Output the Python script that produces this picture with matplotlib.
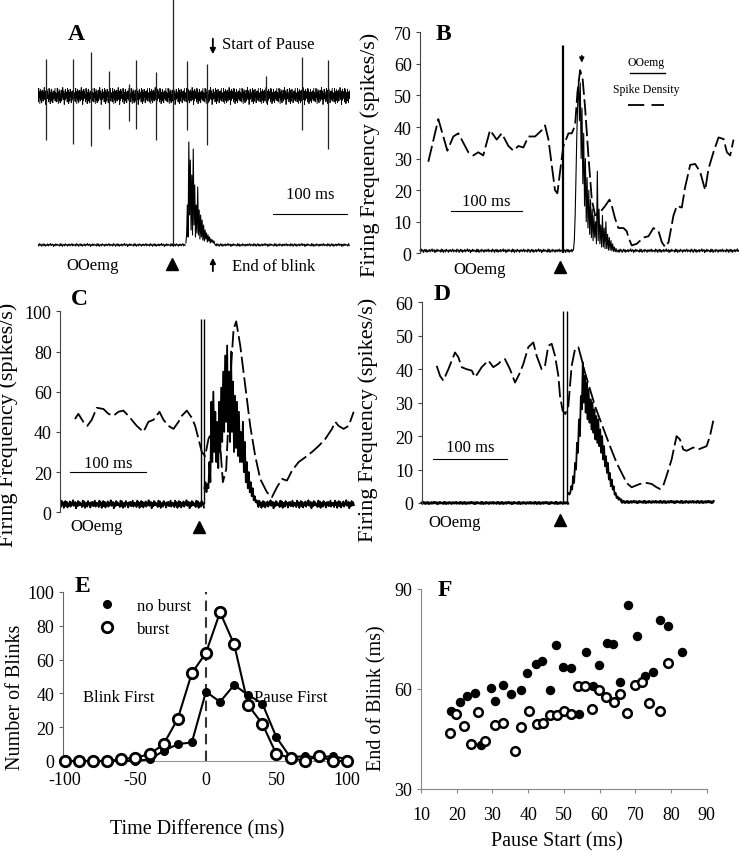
import matplotlib
matplotlib.use('Agg')
import matplotlib.pyplot as plt
import numpy as np

plt.rcParams['font.family'] = ['Liberation Serif', 'DejaVu Serif']
plt.rcParams['axes.unicode_minus'] = False

W, H = 739, 853

# ---------------- data ----------------
# hand-read jitter of the noisy baselines (fraction of the band half-width)
noise = [0.3, -0.7, 0.9, -0.2, 0.5, -0.9, 0.1, 0.8, -0.5, 0.6, -0.8, 0.2, -0.3, 0.7,
         -0.6, 0.4, -0.1, 1.0, -0.4, 0.2, 0.6, -1.0, 0.3, -0.5, 0.8, -0.3, 0.5, -0.2,
         0.1, -0.7, 0.9, -0.4, 0.7, -0.9, 0.0, 0.4, -0.6, 0.8, -0.1, 0.3, -0.8, 0.5,
         -0.3, 0.6, -0.5, 0.2, 0.9, -0.6, 0.4, -0.2]

# A: raw unit record (ms from trace start) and OOemg
a_spike_t = [11, 47, 72, 96, 123, 132, 159, 182, 201, 228, 308, 357, 392]
a_spike_up = [37, 37, 44, 25, 12, 36, 24, 97, 35, 32, 20, 39, 36]
a_spike_down = [44, 48, 50, 33, 25, 33, 44, 150, 34, 49, 7, 34, 53]
a_emg_burst = [2, 10, 40, 8, 103, 30, 85, 15, 70, 10, 96, 20, 60, 8, 40, 12, 58, 10,
               35, 6, 30, 8, 25, 5, 20, 4, 15, 6, 12, 3, 10, 4, 8, 2, 6, 3, 5, 2, 4, 1]

# B: spike density (dashed) and OOemg
b_sd_t = [11.7, 25.8, 38.5, 46.9, 54, 61, 68, 75, 82, 89, 98.6, 108, 115, 124.4, 131.5,
          138.5, 145.5, 152.6, 162, 171.4, 176, 180.8, 185.4, 190, 193.4, 197.2, 199.5,
          201.9, 209, 213.6, 218.3, 221.6, 225.4, 229, 232.4, 237, 241.8, 246.5, 253.5,
          260.6, 266.7, 270, 274.6, 279.3, 286.4, 291, 293.4, 298, 305, 314.6, 321.6,
          328.6, 335.7, 340.4, 345, 349.8, 356.8, 361.5, 368.5, 373.2, 380.3, 387.3,
          394.4, 401.4, 406, 413, 420.2, 427.2, 432, 436.6, 441.3]
b_sd_v = [29, 42.5, 32.5, 37, 38, 35, 32, 31, 32, 31, 39, 36, 38, 34, 32.5, 34, 33.5, 37,
          37, 39, 40.5, 36, 28, 20, 19, 26, 30, 34, 38, 38, 40.5, 51, 58, 55, 46, 31, 17,
          12, 13, 15, 17, 15, 11, 8, 8, 7, 5, 2.5, 3, 5, 5.4, 8, 7, 3.5, 2, 3.5, 12, 15,
          14.5, 21, 28, 28.3, 25.7, 20, 26.7, 32, 36.7, 36.2, 32, 31, 36]
b_artifact_t = [199.5, 201.5]
b_artifact_top = 66
b_emg_burst_start, b_emg_dt = 216, 1.2
b_emg_burst = [1, 4, 12, 25, 38, 48, 55, 42, 54, 30, 46, 22, 38, 15, 30, 10, 24, 8, 20, 6,
               17, 5, 14, 4, 12, 5, 10, 3, 26, 4, 14, 3, 9, 2, 12, 2, 8, 1.5, 10, 1.5, 6,
               1, 5, 1, 4, 0.8, 3, 0.6, 2, 0.5, 1.5, 0.4, 1, 0.5]

# C
c_sd_t = [19.8, 24.2, 30.8, 36.1, 41.9, 48.5, 57.3, 63.9, 70.5, 77.1, 83.7, 90.3, 96.9,
          101.3, 110.1, 116.7, 123.3, 131.3, 136.6, 143.2, 149.8, 156.4, 160.8, 167.4,
          174, 178.4, 182.8, 187.2, 191.6, 196, 202.6, 209.3, 213.7, 215, 219.4, 224.7,
          229.1, 232.6, 237.9, 244.5, 251.1, 257.7, 264.3, 273.1, 279.7, 286.3, 293,
          299.6, 306.2, 315, 323.8, 332.6, 341.4, 350.2, 359, 363.4, 367.8, 374.4, 381,
          387.7]
c_sd_v = [46.4, 49, 45, 43, 46, 52, 51.4, 49, 48, 50, 50.6, 48, 45, 43, 40, 45, 46, 50,
          46, 43, 41.5, 45, 48, 50.6, 47, 43, 36.5, 30, 28, 36.5, 42, 45, 21.5, 15, 21.5,
          66, 91, 95, 83, 63, 43, 28, 16.6, 10, 7.5, 12.4, 16.6, 15.8, 20.7, 25, 27.4,
          30, 33, 36.5, 41.5, 45, 43, 41.5, 43, 50]
c_artifact_t = [186.3, 190.3]
c_artifact_top = 96
c_emg_level = 4
c_emg_burst_start, c_emg_dt = 190.7, 1.3
c_emg_burst = [12, 15, 10, 14, 12, 25, 15, 55, 25, 60, 30, 50, 25, 45, 22, 55, 30, 62, 35,
               70, 40, 78, 45, 83, 40, 70, 35, 80, 40, 65, 30, 58, 32, 55, 28, 50, 25, 40,
               25, 45, 20, 35, 15, 25, 12, 20, 10, 15, 8, 12, 6, 8, 5, 6, 4]

# D
d_sd_t = [20.2, 24.7, 29.1, 35.9, 44.8, 49.3, 53.8, 60.5, 67.3, 71.7, 76.2, 80.7, 89.7,
          96.4, 103.1, 107.6, 112.1, 118.8, 125.6, 132.3, 136.8, 143.5, 150.2, 154.7,
          161.4, 165.9, 170.4, 174.9, 179.4, 183.9, 186.1, 189.7, 193.3, 197.3, 201.8,
          206.3, 210.8, 215.2, 219.7, 226.5, 233.2, 239.9, 246.6, 253.4, 262.3, 269.1,
          275.8, 282.5, 293.7, 302.7, 309.4, 316.1, 320.6, 325.1, 329.6, 336.3, 343,
          347.5, 352, 356.5, 365.5, 372.2, 378.9, 383.4, 387.9, 392.4]
d_sd_v = [41, 38, 36.6, 40, 45, 43.6, 40.6, 40, 39.6, 37.6, 39, 40.6, 42.6, 40.6, 41.6,
          42.6, 43, 40, 36, 39, 41.6, 46.6, 48, 44, 40, 41, 47, 47.6, 44, 38, 32, 27.6,
          26.6, 29, 41, 46, 46.6, 43, 39, 34, 29, 25, 21, 17, 12, 9, 6, 4.7, 5.7, 6, 5.7,
          4.7, 4.2, 5.2, 8.2, 13, 20, 19, 16, 15.6, 16.6, 16, 16.6, 17, 20, 24.6]
d_artifact_t = [190.6, 196.0]
d_artifact_top = 57.5
d_emg_burst_start, d_emg_dt = 197.3, 1.3
d_emg_burst = [3, 2.5, 3, 5, 4, 8, 6, 12, 10, 18, 15, 25, 20, 32, 28, 42, 30, 38, 27, 36,
               25, 34, 24, 31, 22, 30, 21, 28, 19, 26, 18, 25, 17, 22, 15, 20, 13, 17, 11,
               14, 9, 12, 7, 9, 5, 7, 4, 5, 2.5, 3, 1.5, 2, 1, 1.5, 0.8, 1]

# E: histogram of time differences
e_time = [-100, -90, -80, -70, -60, -50, -40, -30, -20, -10, 0, 10, 20, 30, 40, 50, 60,
          70, 80, 90, 100]
e_no_burst = [0, 0, 0, 0, 0, 0, 1, 6, 10, 11, 41, 35, 45, 39, 34, 14, 2, 3, 2, 3, 1]
e_burst = [0, 0, 0, 0, 1, 2, 4, 10, 25, 52, 64, 88, 69, 33, 22, 4, 2, 0, 3, 0, 0]

# F: end of blink vs pause start
f_nb_x = [18.3, 20.9, 22.8, 25.1, 29.5, 30.8, 32.9, 35.2, 38.0, 39.6, 42.1, 44.0, 46.1,
          47.7, 49.9, 52.0, 54.3, 56.1, 58.1, 59.8, 62.0, 63.9, 65.7, 68.1, 70.4, 72.7,
          75.1, 76.9, 79.1, 83.0, 26.9]
f_nb_y = [53.3, 56, 58, 58.7, 60.2, 56.3, 61.3, 58.4, 59.7, 64.7, 67.5, 68.5, 59.7, 73.2,
          66.5, 66.3, 52.5, 71, 61, 67.3, 73.9, 73.4, 62, 85.2, 76, 64, 65.2, 80.8, 78.8,
          71.2, 43.3]
f_b_x = [18.1, 19.8, 22.1, 24.0, 25.9, 28.0, 30.7, 33.1, 36.2, 38.0, 40.3, 42.4, 44.1,
         46.1, 48.2, 50.1, 51.9, 53.9, 55.9, 58.0, 59.9, 61.8, 64.0, 65.8, 67.8, 70.0,
         71.8, 73.9, 76.8, 79.3]
f_b_y = [46.8, 52.6, 49, 43.4, 53.2, 44.3, 49.2, 49.9, 41.5, 48.7, 53.4, 49.6, 49.9,
         52.2, 52.2, 53.3, 52.6, 60.8, 61, 54, 59.8, 57.6, 56, 58.5, 52.9, 61.2, 62.2,
         55.9, 53.3, 67.9]


def rect(left, top, right, bottom):
    # pixel box -> figure fraction
    return [left / W, 1 - bottom / H, (right - left) / W, (bottom - top) / H]


def baseline(t0, t1, dt, level, amp):
    t = np.arange(t0, t1, dt)
    return t, level + amp * np.resize(noise, t.size)


fig = plt.figure(figsize=(W / 100, H / 100), dpi=100)

# ---------------- A ----------------
axA = fig.add_axes(rect(38, 0, 350, 280))
axA.set_xlim(0, 422)
axA.set_ylim(0, 280)
axA.axis('off')
unit_level, emg_level = 183, 34
t, v = baseline(0, 422, 0.5, unit_level, 8.5)
axA.plot(t, v, color='k', lw=0.6)
axA.vlines(a_spike_t, unit_level - np.array(a_spike_down),
           unit_level + np.array(a_spike_up), color='#222222', lw=0.9)
t, v = baseline(0, 200, 1, emg_level, 1.5)
axA.plot(t, v, color='k', lw=0.8)
tb = 200 + np.arange(len(a_emg_burst))
axA.plot(tb, emg_level + np.array(a_emg_burst), color='k', lw=0.8)
t, v = baseline(240, 422, 1, emg_level, 1.5)
axA.plot(t, v, color='k', lw=0.8)
axA.annotate('', xy=(236.5, 222), xytext=(236.5, 243),
             arrowprops=dict(arrowstyle='-|>', color='k', lw=1.3, mutation_scale=8))
axA.text(249, 235, 'Start of Pause', fontsize=12, va='center', ha='left')
axA.plot([317.6, 417.6], [65, 65], color='k', lw=0.8)
axA.text(367.6, 85, '100 ms', fontsize=12, ha='center', va='center')
axA.text(74, 14, 'OOemg', fontsize=12, ha='center', va='center')
axA.plot([181], [15], marker='^', color='k', ms=9, clip_on=False)
axA.annotate('', xy=(236.5, 24), xytext=(236.5, 5),
             arrowprops=dict(arrowstyle='-|>', color='k', lw=1.3, mutation_scale=8))
axA.text(263, 13, 'End of blink', fontsize=12, va='center', ha='left')


def trace_axes(box, xmax, ymax, yticks):
    ax = fig.add_axes(box)
    ax.set_xlim(0, xmax)
    ax.set_ylim(0, ymax)
    ax.set_yticks(yticks)
    ax.set_xticks([])
    for s in ['top', 'right', 'bottom']:
        ax.spines[s].set_visible(False)
    ax.spines['left'].set_color('#444444')
    ax.tick_params(axis='y', labelsize=13, length=3, color='#444444', pad=3)
    ax.set_ylabel('Firing Frequency (spikes/s)', fontsize=16, va='center')
    return ax


dash = (0, (9, 2.5))

# ---------------- B ----------------
axB = trace_axes(rect(420, 33.3, 739, 254.3), 449, 70, range(0, 71, 10))
axB.yaxis.set_label_coords(-0.155, 0.45)
t, v = baseline(0, b_emg_burst_start, 1, 0.8, 0.6)
axB.plot(t, v, color='k', lw=0.8, clip_on=False)
axB.vlines(b_artifact_t, 0, b_artifact_top, color='k', lw=0.9)
tb = b_emg_burst_start + b_emg_dt * np.arange(len(b_emg_burst))
axB.plot(tb, b_emg_burst, color='k', lw=0.8)
t, v = baseline(tb[-1], 449, 1, 0.8, 0.6)
axB.plot(t, v, color='k', lw=0.8, clip_on=False)
axB.plot(b_sd_t, b_sd_v, color='k', lw=1.3, ls=dash)
axB.plot([43.7, 143.7], [13.3, 13.3], color='k', lw=0.8)
axB.text(93.7, 16.5, '100 ms', fontsize=12, ha='center', va='center')
axB.text(84.5, -5, 'OOemg', fontsize=12, ha='center', va='center', clip_on=False)
axB.plot([197.2], [-4.3], marker='^', color='k', ms=9, clip_on=False)
axB.annotate('', xy=(227.7, 59.5), xytext=(227.7, 63.5),
             arrowprops=dict(arrowstyle='-|>', color='k', lw=1.1, mutation_scale=7))
axB.text(0.708, 0.864, 'OOemg', transform=axB.transAxes, fontsize=8.5,
         ha='center', va='center')
axB.plot([0.658, 0.768], [0.814, 0.814], transform=axB.transAxes, color='k', lw=1)
axB.text(0.708, 0.742, 'Spike Density', transform=axB.transAxes, fontsize=8.5,
         ha='center', va='center')
axB.plot([0.652, 0.765], [0.670, 0.670], transform=axB.transAxes, color='k', lw=1.3,
         ls=(0, (9, 4)))

# ---------------- C ----------------
axC = trace_axes(rect(60, 312.3, 360, 513.3), 396, 100, range(0, 101, 20))
axC.yaxis.set_label_coords(-0.172, 0.44)
t, v = baseline(0, c_emg_burst_start, 1, c_emg_level, 2)
axC.plot(t, v, color='k', lw=1.3)
axC.vlines(c_artifact_t, c_emg_level, c_artifact_top, color='k', lw=1.0)
tb = c_emg_burst_start + c_emg_dt * np.arange(len(c_emg_burst))
axC.plot(tb, c_emg_burst, color='k', lw=1.3)
t, v = baseline(tb[-1], 388, 1, c_emg_level, 2)
axC.plot(t, v, color='k', lw=1.3)
axC.plot(c_sd_t, c_sd_v, color='k', lw=1.3, ls=dash)
axC.plot([13.2, 113.2], [20, 20], color='k', lw=0.8)
axC.text(63.2, 24.5, '100 ms', fontsize=12, ha='center', va='center')
axC.text(48.5, -7, 'OOemg', fontsize=12, ha='center', va='center', clip_on=False)
axC.plot([183.6], [-7.5], marker='^', color='k', ms=9, clip_on=False)

# ---------------- D ----------------
axD = trace_axes(rect(421.7, 303.3, 739, 504), 427, 60, range(0, 61, 10))
axD.yaxis.set_label_coords(-0.168, 0.42)
t, v = baseline(0, d_emg_burst_start, 1, 0, 0.3)
axD.plot(t, v, color='k', lw=1.6, clip_on=False)
axD.vlines(d_artifact_t, 0, d_artifact_top, color='k', lw=1.0)
tb = d_emg_burst_start + d_emg_dt * np.arange(len(d_emg_burst))
axD.plot(tb, d_emg_burst, color='k', lw=1.3)
t, v = baseline(tb[-1], 393, 1, 0.3, 0.3)
axD.plot(t, v, color='k', lw=1.6, clip_on=False)
axD.plot(d_sd_t, d_sd_v, color='k', lw=1.3, ls=dash)
axD.plot([15.2, 115.2], [13.2, 13.2], color='k', lw=0.8)
axD.text(65.2, 16.8, '100 ms', fontsize=12, ha='center', va='center')
axD.text(44.8, -5.8, 'OOemg', fontsize=12, ha='center', va='center', clip_on=False)
axD.plot([186.1], [-5], marker='^', color='k', ms=9, clip_on=False)

# ---------------- E ----------------
axE = fig.add_axes(rect(63.3, 593, 351.7, 762))
axE.set_xlim(-101.2, 103.4)
axE.set_ylim(0, 100)
axE.axvline(0, color='#333333', lw=1.5, ls=(0, (5, 3)))
axE.plot(e_time, e_no_burst, color='k', lw=1.5, marker='o', ms=5.5, mfc='k', mec='k',
         clip_on=False, zorder=3, label='no burst')
axE.plot(e_time, e_burst, color='k', lw=1.5, marker='o', ms=7.5, mfc='white', mec='k',
         mew=2, clip_on=False, zorder=4, label='burst')
for s in ['top', 'right']:
    axE.spines[s].set_visible(False)
axE.spines['left'].set_color('#666666')
axE.spines['bottom'].set_color('#999999')
axE.set_xticks([-100, -50, 0, 50, 100])
axE.set_yticks(range(0, 101, 20))
axE.tick_params(axis='x', labelsize=13, length=0, pad=7)
axE.tick_params(axis='y', labelsize=13, length=3, color='#666666')
axE.set_xlabel('Time Difference (ms)', fontsize=14.5, va='center')
axE.set_ylabel('Number of Blinks', fontsize=14.5, va='center')
axE.xaxis.set_label_coords(0.464, -0.40)
axE.yaxis.set_label_coords(-0.167, 0.385)
handles = [plt.Line2D([], [], ls='none', marker='o', ms=5.5, mfc='k', mec='k'),
           plt.Line2D([], [], ls='none', marker='o', ms=7.5, mfc='white', mec='k', mew=2)]
axE.legend(handles, ['no burst', 'burst'], loc='upper left',
           bbox_to_anchor=(0.124, 0.965), frameon=False, fontsize=12,
           borderpad=0, borderaxespad=0, handlelength=1, handletextpad=1.27,
           labelspacing=0.4)
axE.text(-62, 37.6, 'Blink First', fontsize=12, ha='center', va='center')
axE.text(60, 38, 'Pause First', fontsize=12, ha='center', va='center')

# ---------------- F ----------------
axF = fig.add_axes(rect(421, 590, 706.7, 790))
axF.set_xlim(10, 90)
axF.set_ylim(30, 90)
axF.plot(f_nb_x, f_nb_y, ls='none', marker='o', ms=5.8, mfc='k', mec='k')
axF.plot(f_b_x, f_b_y, ls='none', marker='o', ms=6.2, mfc='white', mec='k', mew=1.8)
for s in ['top', 'right']:
    axF.spines[s].set_visible(False)
for s in ['left', 'bottom']:
    axF.spines[s].set_color('#888888')
axF.set_xticks(range(10, 91, 10))
axF.set_yticks([30, 60, 90])
axF.tick_params(labelsize=13, length=3, color='#888888')
axF.tick_params(axis='x', pad=9)
axF.set_xlabel('Pause Start (ms)', fontsize=14.5, va='center')
axF.set_ylabel('End of Blink (ms)', fontsize=14.5, va='center')
axF.xaxis.set_label_coords(0.475, -0.26)
axF.yaxis.set_label_coords(-0.154, 0.46)

# panel letters
for letter, px, py in [('A', 76, 35), ('B', 443, 35), ('C', 79, 300), ('D', 442, 295),
                       ('E', 82, 587), ('F', 445, 590)]:
    fig.text(px / W, 1 - py / H, letter, fontsize=17, fontweight='bold',
             ha='center', va='center')

fig.savefig('out.png', dpi=100)
